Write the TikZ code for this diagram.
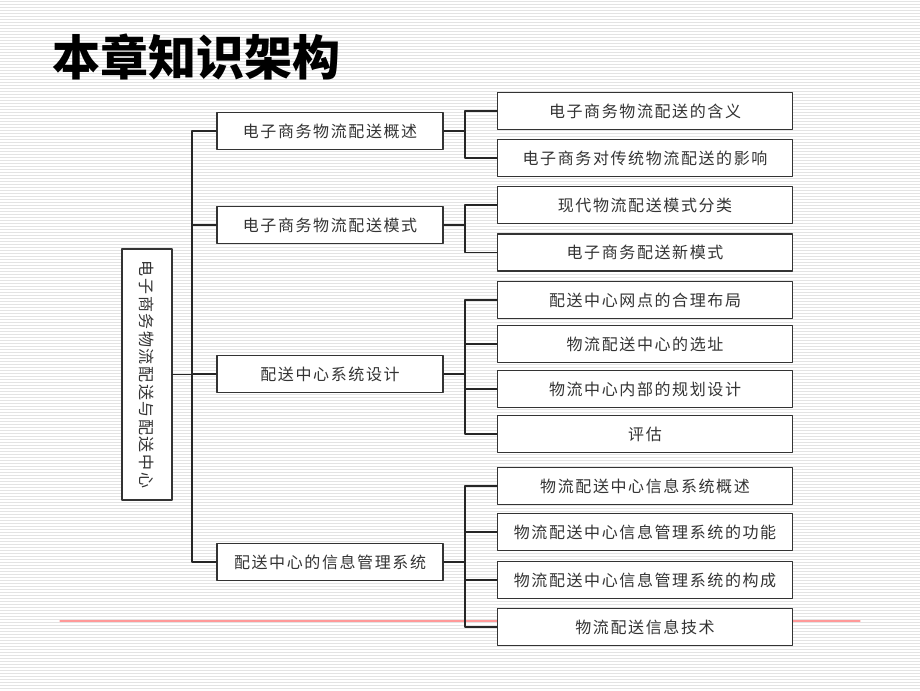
\documentclass[tikz,border=0pt]{standalone}
\usepackage{fontspec}
\newfontfamily\cjk{Noto Sans CJK SC}
\newfontfamily\cjkbox[LetterSpace=10]{Noto Sans CJK SC}
\begin{document}
\begin{tikzpicture}[x=0.75pt, y=-0.75pt, line join=round, line cap=round,
	box/.style={draw=black!80, line width=1.2pt, fill=white, text=black!80, inner sep=0pt,
		font=\cjkbox\fontsize{12}{14}\selectfont},
	mid/.style={box, minimum width=169.5pt, minimum height=27.75pt},
	sub/.style={box, minimum width=221pt, minimum height=27.75pt},
	link/.style={draw=black!85, line width=0.9pt}]
	\useasboundingbox (0,0) rectangle (920,690);
	\fill[white] (0,0) rectangle (920,690);
	\foreach \y in {1.5,4.5,...,690} \draw[gray!22, line width=0.5pt] (0,\y) -- (920,\y);
	\draw[red!40, line width=0.9pt] (60,621) -- (860,621);
	\node[font=\cjk\bfseries\fontsize{36}{40}\selectfont] (title) at (196,57) {本章知识架构};
	\node[box, rotate=-90, minimum width=188pt, minimum height=37.5pt] (root) at (147,374.5) {电子商务物流配送与配送中心};
	\node[mid] (mA) at (330,131) {电子商务物流配送概述};
	\node[mid] (mB) at (330,225) {电子商务物流配送模式};
	\node[mid] (mC) at (330,374) {配送中心系统设计};
	\node[mid] (mD) at (330,562) {配送中心的信息管理系统};
	\foreach \n/\y/\t in {a/111/电子商务物流配送的含义, b/158/电子商务对传统物流配送的影响,
		c/205/现代物流配送模式分类, d/252.5/电子商务配送新模式,
		e/300/配送中心网点的合理布局, f/344/物流配送中心的选址, g/389/物流中心内部的规划设计, h/434/评估,
		i/486/物流配送中心信息系统概述, j/532/物流配送中心信息管理系统的功能,
		k/580/物流配送中心信息管理系统的构成, l/627/物流配送信息技术}
		\node[sub] (s\n) at (645,\y) {\t};
	\coordinate (tx) at (192,0);
	\coordinate (bx) at (465,0);
	\draw[link] (root.north) -- (root.north -| tx);
	\draw[link] (mA.west) -- (mA.west -| tx) |- (mD.west);
	\foreach \m in {mB,mC} \draw[link] (\m.west) -- (\m.west -| tx);
	\foreach \m in {mA,mB,mC,mD} \draw[link] (\m.east) -- (\m.east -| bx);
	\draw[link] (sa.west) -- (sa.west -| bx) |- (sb.west);
	\draw[link] (sc.west) -- (sc.west -| bx) |- (sd.west);
	\draw[link] (se.west) -- (se.west -| bx) |- (sh.west);
	\draw[link] (si.west) -- (si.west -| bx) |- (sl.west);
	\foreach \s in {sf,sg,sj,sk} \draw[link] (\s.west) -- (\s.west -| bx);
\end{tikzpicture}
\end{document}
